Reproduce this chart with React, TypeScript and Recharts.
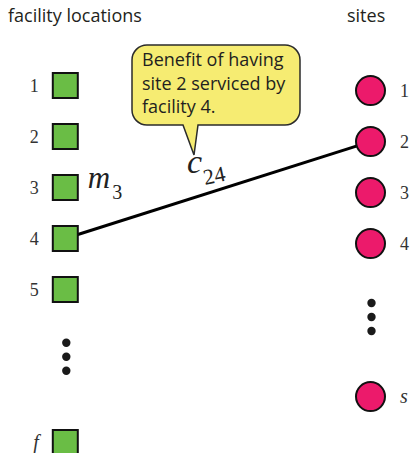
import React from 'react';
import { ScatterChart, Scatter, XAxis, YAxis, Customized } from 'recharts';

// ---- data ----
const columnTitles = ['facility locations', 'sites'];
const facilityLabels = ['1', '2', '3', '4', '5', 'f'];
const facilityRows = [1, 2, 3, 4, 5, 8];
const siteLabels = ['1', '2', '3', '4', 's'];
const siteRows = [1, 2, 3, 4, 7];
const SITE_ROW_OFFSET = 0.1; // sites sit slightly lower than facilities
const facilityEllipsisRow = 6.32;
const siteEllipsisRow = 5.44;
const linkFacility = 4;
const linkSite = 2;
const linkLabel = { main: 'c', sub: '24' };
const capacityRow = 3;
const capacityLabel = { main: 'm', sub: '3' };
const calloutLines = ['Benefit of having', 'site 2 serviced by', 'facility 4.'];

// ---- styles ----
const W = 410;
const H = 453;
const GREEN = '#6abd45';
const PINK = '#ec1a6b';
const OUTLINE = '#111111';
const SERIF = '"Liberation Serif", "Times New Roman", serif';
const SANS = '"Open Sans", "Noto Sans", sans-serif';
const TEXT = '#231f20';

const facilityData = facilityRows.map((r, i) => ({ x: 0, y: r, label: facilityLabels[i], row: r }));
const siteData = siteRows.map((r, i) => ({ x: 1, y: r + SITE_ROW_OFFSET, label: siteLabels[i], row: r }));
const ellipsisData = [
  { x: 0, y: facilityEllipsisRow },
  { x: 1, y: siteEllipsisRow + SITE_ROW_OFFSET },
];
const linkData = [
  { x: 0, y: linkFacility },
  { x: 1, y: linkSite + SITE_ROW_OFFSET },
];

const isItalic = (s: string) => /[a-z]/.test(s);

const FacilityShape = (props: any) => {
  const { cx, cy, payload } = props;
  const lbl = payload.label;
  return (
    <g>
      <rect x={cx - 12.5} y={cy - 12.5} width={25} height={25} fill={GREEN} stroke={OUTLINE} strokeWidth={2} />
      <text
        x={cx - 26.5}
        y={cy + 6.5}
        textAnchor="end"
        fontFamily={SERIF}
        fontStyle={isItalic(lbl) ? 'italic' : 'normal'}
        fontSize={isItalic(lbl) ? 20 : 18}
        fill="#333"
      >
        {lbl}
      </text>
      {payload.row === capacityRow && (
        <g>
          <text x={cx + 22.5} y={cy} fontFamily={SERIF} fontStyle="italic" fontSize={31} fill="#222">
            {capacityLabel.main}
          </text>
          <text x={cx + 47} y={cy + 11} fontFamily={SERIF} fontSize={20} fill="#222">
            {capacityLabel.sub}
          </text>
        </g>
      )}
    </g>
  );
};

const SiteShape = (props: any) => {
  const { cx, cy, payload } = props;
  const lbl = payload.label;
  return (
    <g>
      <circle cx={cx} cy={cy} r={14.5} fill={PINK} stroke={OUTLINE} strokeWidth={2} />
      <text
        x={cx + 29.5}
        y={cy + 6}
        textAnchor="start"
        fontFamily={SERIF}
        fontStyle={isItalic(lbl) ? 'italic' : 'normal'}
        fontSize={isItalic(lbl) ? 20 : 18}
        fill="#333"
      >
        {lbl}
      </text>
    </g>
  );
};

const EllipsisShape = (props: any) => {
  const { cx, cy } = props;
  return (
    <g>
      {[-14, 0, 14].map((d) => (
        <circle key={d} cx={cx + 1} cy={cy + d} r={4.2} fill="#1a1a1a" />
      ))}
    </g>
  );
};

const EmptyShape = () => <g />;

const Annotations = () => {
  const L = 132, T = 45, R = 300, B = 125, rr = 15;
  const bubble = `M ${L + rr} ${T} H ${R - rr} A ${rr} ${rr} 0 0 1 ${R} ${T + rr} V ${B - rr} A ${rr} ${rr} 0 0 1 ${R - rr} ${B} H 198 L 194 155 L 183 ${B} H ${L + rr} A ${rr} ${rr} 0 0 1 ${L} ${B - rr} V ${T + rr} A ${rr} ${rr} 0 0 1 ${L + rr} ${T} Z`;
  return (
    <g>
      <text x={8} y={21.5} fontFamily={SANS} fontSize={18} fill={TEXT}>
        {columnTitles[0]}
      </text>
      <text x={347} y={21.5} fontFamily={SANS} fontSize={18} fill={TEXT}>
        {columnTitles[1]}
      </text>
      <path d={bubble} fill="#f6ec72" stroke="#2b2b2b" strokeWidth={1.5} />
      {calloutLines.map((t, i) => (
        <text key={i} x={142} y={66 + i * 23.5} fontFamily={SANS} fontSize={18} fill={TEXT}>
          {t}
        </text>
      ))}
      <text x={187} y={173} fontFamily={SERIF} fontStyle="italic" fontSize={34} fill="#222">
        {linkLabel.main}
      </text>
      <text x={205} y={185} fontFamily={SERIF} fontSize={22} fill="#222" transform="rotate(-12 205 185)">
        {linkLabel.sub}
      </text>
    </g>
  );
};

export default function App() {
  return (
    <div style={{ position: 'absolute', left: 0, top: 0, width: W, height: H }}>
      <ScatterChart width={W} height={H} margin={{ top: 34.5, bottom: 10.5, left: 65.3, right: 39.5 }}>
        <XAxis type="number" dataKey="x" domain={[0, 1]} hide />
        <YAxis type="number" dataKey="y" domain={[0, 8]} reversed hide />
        <Scatter data={linkData} line={{ stroke: '#000', strokeWidth: 3 }} shape={EmptyShape} isAnimationActive={false} />
        <Scatter data={ellipsisData} shape={EllipsisShape} isAnimationActive={false} />
        <Scatter data={facilityData} shape={FacilityShape} isAnimationActive={false} />
        <Scatter data={siteData} shape={SiteShape} isAnimationActive={false} />
        <Customized component={Annotations} />
      </ScatterChart>
    </div>
  );
}
